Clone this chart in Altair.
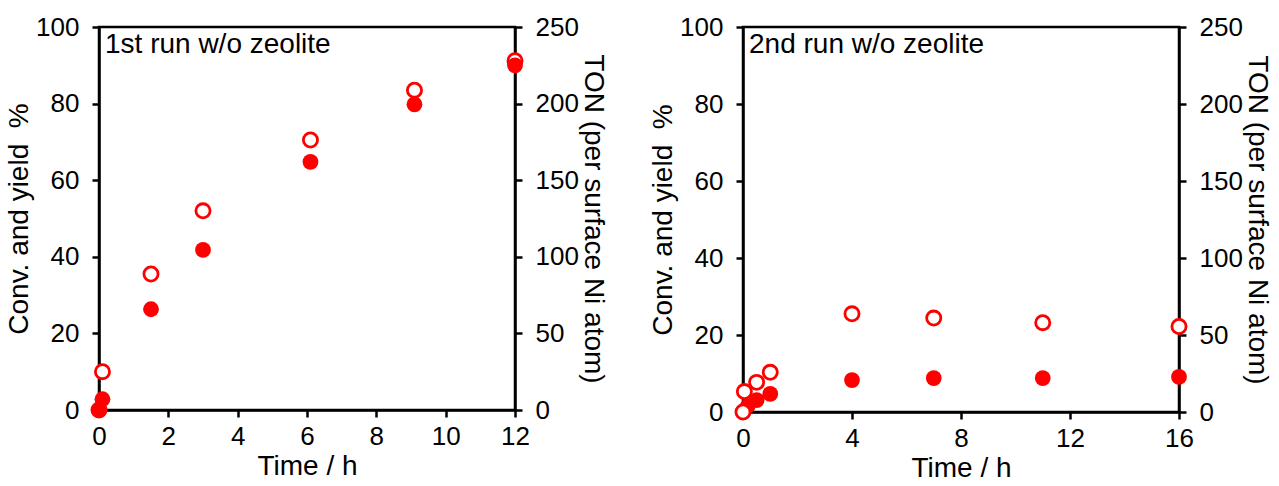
import altair as alt
import pandas as pd

# ---- data ----
t1_conv = [0, 0.1, 1.5, 3.0, 6.1, 9.1, 12.0]
conv1 = [0, 10.0, 35.5, 52.0, 70.5, 83.5, 91.2]
t1_yield = [0, 0.1, 1.5, 3.0, 6.1, 9.1, 12.0]
yield1 = [0, 2.8, 26.3, 41.8, 64.8, 79.8, 90.0]

t2_conv = [0, 0.05, 0.5, 1.0, 4.0, 7.0, 11.0, 16.0]
conv2 = [0, 5.3, 7.7, 10.3, 25.5, 24.4, 23.2, 22.2]
t2_yield = [0, 0.17, 0.5, 1.0, 4.0, 7.0, 11.0, 16.0]
yield2 = [0, 1.5, 3.1, 4.7, 8.3, 8.8, 8.8, 9.1]

pct_ticks = [0, 20, 40, 60, 80, 100]
ton_ticks = [0, 50, 100, 150, 200, 250]
x1_ticks = [0, 2, 4, 6, 8, 10, 12]
x2_ticks = [0, 4, 8, 12, 16]
labels = ["1st run w/o zeolite", "2nd run w/o zeolite"]
y_title = "Conv. and yield \u00a0%"
ton_title = "TON (per surface Ni atom)"

FONT = "Liberation Sans"
RED = "#ff0000"


def panel(tc, cv, ty, yv, xticks, label, w, h, hollow_on_top):
    dc = pd.DataFrame({"t": tc, "v": cv})
    dy = pd.DataFrame({"t": ty, "v": yv})
    x = alt.X("t:Q",
              scale=alt.Scale(domain=[xticks[0], xticks[-1]], nice=False, zero=False),
              axis=alt.Axis(values=xticks, title="Time / h", labelFlush=False))
    y = alt.Y("v:Q",
              scale=alt.Scale(domain=[0, 100], nice=False),
              axis=alt.Axis(values=pct_ticks, title=y_title, labelFlush=False))
    hollow = alt.Chart(dc).mark_circle(
        fill="white", stroke=RED, strokeWidth=2.8, size=200, opacity=1,
        fillOpacity=1, strokeOpacity=1).encode(x=x, y=y)
    filled = alt.Chart(dy).mark_circle(
        color=RED, size=250, opacity=1).encode(x=x, y=y)
    ton = alt.Chart(pd.DataFrame({"ton": [0, 250]})).mark_point(opacity=0).encode(
        y=alt.Y("ton:Q", scale=alt.Scale(domain=[0, 250], nice=False),
                axis=alt.Axis(orient="right", values=ton_ticks, title=ton_title,
                              labelFlush=False, titlePadding=0)))
    txt = alt.Chart(pd.DataFrame({"label": [label]})).mark_text(
        align="left", baseline="top", font=FONT, fontSize=28, color="black"
    ).encode(x=alt.value(6), y=alt.value(4), text="label:N")
    pts = alt.layer(filled, hollow) if hollow_on_top else alt.layer(hollow, filled)
    return alt.layer(pts, ton, txt).resolve_scale(y="independent").properties(
        width=w, height=h)


p1 = panel(t1_conv, conv1, t1_yield, yield1, x1_ticks, labels[0], 416, 383, False)
p2 = panel(t2_conv, conv2, t2_yield, yield2, x2_ticks, labels[1], 436, 385, True)

chart = alt.hconcat(p1, p2, spacing=40).properties(
    padding={"left": 4, "top": 12, "right": 5, "bottom": 0}
).configure_view(
    stroke="black", strokeWidth=2.5
).configure_axis(
    grid=False,
    domainColor="black", domainWidth=2.5,
    tickColor="black", tickWidth=2.5, tickSize=7,
    labelFont=FONT, labelFontSize=26, labelColor="black", labelPadding=13,
    titleFont=FONT, titleFontSize=28, titleFontWeight="normal", titleColor="black",
    titlePadding=2,
).configure_axisX(labelPadding=6, titlePadding=3)

chart.save("out.html", embed_options={"renderer": "svg", "actions": False})
